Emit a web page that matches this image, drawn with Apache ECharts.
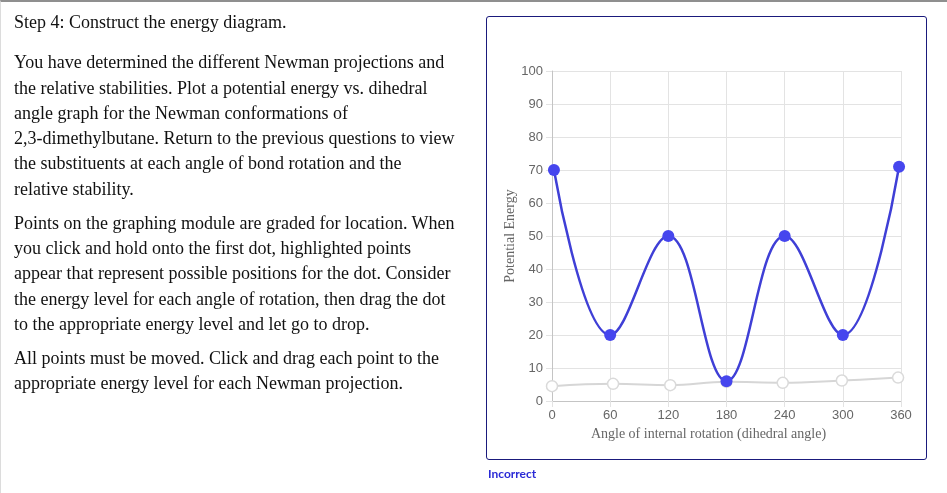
<!DOCTYPE html>
<html>
<head>
<meta charset="utf-8">
<script src="https://cdn.jsdelivr.net/npm/echarts@6/dist/echarts.min.js"></script>
<style>
  html, body { margin: 0; padding: 0; width: 947px; height: 493px; overflow: hidden; background: #fff; }
  #page { position: absolute; left: 0; top: 0; width: 947px; height: 493px; border-top: 2px solid #8f8f8f; border-left: 1px solid #dcdcdc; box-sizing: border-box; }
  #chart { position: absolute; left: 0; top: 0; width: 947px; height: 493px; }
  #text { position: absolute; left: 14px; top: 1px; font: 18px/25.25px "Liberation Serif", "DejaVu Serif", serif; color: #111; }
  #text p { margin: 0; white-space: nowrap; }
  #box { position: absolute; left: 486px; top: 16px; width: 441px; height: 444px; border: 1px solid #1a1a7c; border-radius: 3px; box-sizing: border-box; }
  #status { position: absolute; left: 488px; top: 466px; font: bold 12px Lato, "Open Sans", sans-serif; color: #2a2ad6; }
</style>
</head>
<body>
<div id="page"></div>
<div id="box"></div>
<div id="chart"></div>
<div id="text">
  <p style="margin-top:9px">Step 4: Construct the energy diagram.</p>
  <p style="margin-top:15px">You have determined the different Newman projections and<br>the relative stabilities. Plot a potential energy vs. dihedral<br>angle graph for the Newman conformations of<br>2,3-dimethylbutane. Return to the previous questions to view<br>the substituents at each angle of bond rotation and the<br>relative stability.</p>
  <p style="margin-top:9px">Points on the graphing module are graded for location. When<br>you click and hold onto the first dot, highlighted points<br>appear that represent possible positions for the dot. Consider<br>the energy level for each angle of rotation, then drag the dot<br>to the appropriate energy level and let go to drop.</p>
  <p style="margin-top:9px">All points must be moved. Click and drag each point to the<br>appropriate energy level for each Newman projection.</p>
</div>
<div id="status">Incorrect</div>
<script>
// Data
var placedAngles   = [2, 60, 120, 180, 240, 300, 358];
var placedEnergies = [70, 20, 50, 6, 50, 20, 71];
var startAngles    = [0, 63, 122, 180, 238, 299, 357];
var startEnergies  = [4.5, 5.2, 4.8, 5.8, 5.5, 6.2, 7.1];
var xTicks = { min: 0, max: 360, interval: 60 };
var yTicks = { min: 0, max: 100, interval: 10 };

function pairs(xs, ys) { return xs.map(function (x, i) { return [x, ys[i]]; }); }

var chart = echarts.init(document.getElementById('chart'), null, { renderer: 'canvas' });
var gridColor = '#e3e3e3';
var axisColor = '#c4c4c4';
var labelFont = { color: '#666', fontSize: 13, fontFamily: '"Liberation Sans", Arial, Helvetica, sans-serif' };
chart.setOption({
  animation: false,
  grid: { left: 552, top: 71, width: 349, height: 330, containLabel: false },
  xAxis: {
    type: 'value', min: xTicks.min, max: xTicks.max, interval: xTicks.interval,
    name: 'Angle of internal rotation (dihedral angle)',
    nameLocation: 'middle', nameGap: 20,
    nameTextStyle: { color: '#666', fontSize: 14, fontFamily: '"Liberation Serif", serif', padding: [0, 36, 0, 0] },
    axisLine: { show: true, lineStyle: { color: axisColor, width: 1 } },
    axisTick: { show: true, length: 6, lineStyle: { color: gridColor } },
    axisLabel: Object.assign({ margin: 8 }, labelFont),
    splitLine: { show: true, lineStyle: { color: gridColor, width: 1 } }
  },
  yAxis: {
    type: 'value', min: yTicks.min, max: yTicks.max, interval: yTicks.interval,
    name: 'Potential Energy',
    nameLocation: 'middle', nameGap: 34, nameRotate: 90,
    nameTextStyle: { color: '#666', fontSize: 14, fontFamily: '"Liberation Serif", serif' },
    axisLine: { show: true, lineStyle: { color: axisColor, width: 1 } },
    axisTick: { show: true, length: 6, lineStyle: { color: gridColor } },
    axisLabel: Object.assign({ margin: 9 }, labelFont),
    splitLine: { show: true, lineStyle: { color: gridColor, width: 1 } }
  },
  series: [
    {
      type: 'line', name: 'start', data: pairs(startAngles, startEnergies),
      smooth: 0.4, symbol: 'circle', symbolSize: 11, showAllSymbol: true,
      lineStyle: { color: '#d6d6d6', width: 2 },
      itemStyle: { color: '#fff', borderColor: '#dadada', borderWidth: 1.5 },
      z: 2
    },
    {
      type: 'line', name: 'placed', data: pairs(placedAngles, placedEnergies),
      smooth: 0.4, symbol: 'circle', symbolSize: 12, showAllSymbol: true,
      lineStyle: { color: '#3f3fd6', width: 2.5 },
      itemStyle: { color: '#4646ee', borderColor: '#4646ee', borderWidth: 0 },
      z: 3
    }
  ]
});
</script>
</body>
</html>
